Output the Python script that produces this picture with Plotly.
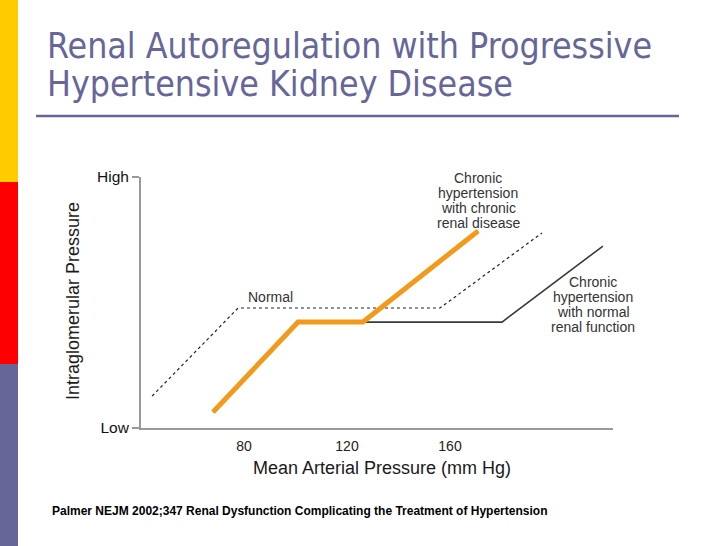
import plotly.graph_objects as go

# ---------------- data ----------------
normal_x = [44.3, 77.7, 156.1, 195.7]
normal_y = [12.7, 47.8, 47.8, 77.7]

htn_normal_x = [68.0, 101.0, 180.2, 219.4]
htn_normal_y = [6.4, 42.2, 42.2, 72.5]

htn_ckd_x = [68.0, 101.0, 126.2, 170.9]
htn_ckd_y = [6.4, 42.2, 42.2, 78.5]

x_tickvals = [80, 120, 160]
x_ticktext = ["80", "120", "160"]
y_tickvals = [0, 100]
y_ticktext = ["Low", "High"]

label_ckd = ["Chronic", "hypertension", "with chronic", "renal disease"]
label_nrf = ["Chronic", "hypertension", "with normal", "renal function"]

title_lines = ["Renal Autoregulation with Progressive", "Hypertensive Kidney Disease"]
footer = "Palmer NEJM 2002;347 Renal Dysfunction Complicating the Treatment of Hypertension"

W, H = 728, 546
L, R, T, B = 141, 613, 177, 428  # plot area in pixels
X_RANGE = [40.0, 223.3]
Y_RANGE = [0, 100]


def px(xp):
    return (xp - L) / (R - L)


def py(yp):
    return (B - yp) / (B - T)


fig = go.Figure()

fig.add_trace(go.Scatter(x=normal_x, y=normal_y, mode="lines",
                         line=dict(color="#222222", width=1.2, dash="dot"),
                         hoverinfo="skip", showlegend=False))
fig.add_trace(go.Scatter(x=htn_normal_x, y=htn_normal_y, mode="lines",
                         line=dict(color="#3a3a3a", width=1.6),
                         hoverinfo="skip", showlegend=False))
fig.add_trace(go.Scatter(x=htn_ckd_x, y=htn_ckd_y, mode="lines",
                         line=dict(color="#3a3a3a", width=1.6),
                         hoverinfo="skip", showlegend=False))
fig.add_trace(go.Scatter(x=htn_ckd_x, y=htn_ckd_y, mode="lines",
                         line=dict(color="#F39A1A", width=5),
                         hoverinfo="skip", showlegend=False))

fig_font = "Liberation Sans, Arial, sans-serif"


def txt(text, xp, yp, size, color="#333333", family=fig_font, xanchor="center", **kw):
    return dict(text=text, x=px(xp), y=py(yp), xref="paper", yref="paper",
                xanchor=xanchor, yanchor="middle", showarrow=False,
                font=dict(family=family, size=size, color=color), **kw)


annotations = [txt("Normal", 270, 297, 14)]
for i, line in enumerate(label_ckd):
    annotations.append(txt(line, 478, 178 + 15 * i, 14))
for i, line in enumerate(label_nrf):
    annotations.append(txt(line, 593, 282 + 15 * i, 14))

annotations += [
    txt("Mean Arterial Pressure (mm Hg)", 382, 468, 18, color="#1a1a1a"),
    txt("Intraglomerular Pressure", 73, 301, 18, color="#1a1a1a", textangle=-90),
    txt(title_lines[0], 45, 45, 35.4, color="#666699",
        family="DejaVu Sans Condensed, DejaVu Sans, sans-serif", xanchor="left"),
    txt(title_lines[1], 45, 83, 35.4, color="#666699",
        family="DejaVu Sans Condensed, DejaVu Sans, sans-serif", xanchor="left"),
    txt("<b>" + footer + "</b>", 50, 511, 12, color="#000000", xanchor="left"),
]

shapes = [
    dict(type="rect", xref="paper", yref="paper", x0=px(0), x1=px(18), y0=py(0), y1=py(182),
         fillcolor="#FFCC00", line=dict(width=0), layer="below"),
    dict(type="rect", xref="paper", yref="paper", x0=px(0), x1=px(18), y0=py(182), y1=py(364),
         fillcolor="#FF0000", line=dict(width=0), layer="below"),
    dict(type="rect", xref="paper", yref="paper", x0=px(0), x1=px(18), y0=py(364), y1=py(546),
         fillcolor="#666699", line=dict(width=0), layer="below"),
    dict(type="line", xref="paper", yref="paper", x0=px(36), x1=px(679), y0=py(116), y1=py(116),
         line=dict(color="#666699", width=2.5)),
]

fig.update_layout(
    width=W, height=H,
    margin=dict(l=L, r=W - R, t=T, b=H - B, pad=0),
    paper_bgcolor="white", plot_bgcolor="white",
    annotations=annotations, shapes=shapes,
    xaxis=dict(range=X_RANGE, tickvals=x_tickvals, ticktext=x_ticktext,
               showgrid=False, zeroline=False, showline=True, linecolor="#999999", linewidth=2,
               ticks="outside", ticklen=4, tickcolor="rgba(0,0,0,0)",
               tickfont=dict(family=fig_font, size=14, color="#222222"), fixedrange=True),
    yaxis=dict(range=Y_RANGE, tickvals=y_tickvals, ticktext=y_ticktext,
               showgrid=False, zeroline=False, showline=True, linecolor="#999999", linewidth=2,
               ticks="outside", ticklen=7, tickcolor="#999999", tickwidth=1.5,
               tickfont=dict(family=fig_font, size=15.5, color="#111111"), fixedrange=True),
)

fig.write_html("out.html", config={"displayModeBar": False},
               post_script="document.body.style.margin='0';document.body.style.overflow='hidden';")
